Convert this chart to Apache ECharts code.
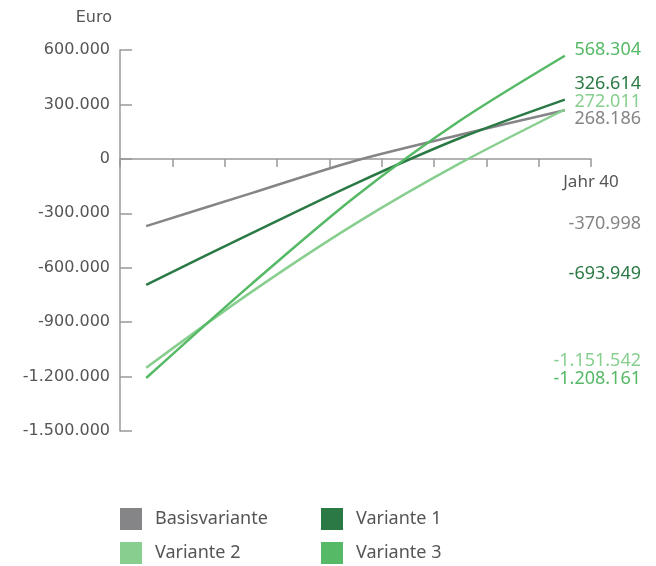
<!DOCTYPE html>
<html>
<head>
<meta charset="utf-8">
<script src="https://cdn.jsdelivr.net/npm/echarts@6/dist/echarts.min.js"></script>
<style>
  html, body { margin: 0; padding: 0; background: #fff; }
  #chart { width: 656px; height: 566px; }
</style>
</head>
<body>
<div id="chart"></div>
<script>
// Werte je Variante (Jahr 0 bis Jahr 40)
const years = [0, 10, 20, 30, 40]
const seriesNames = ['Basisvariante', 'Variante 1', 'Variante 2', 'Variante 3']
const basis = [-370998, -190000, -10000, 133000, 268186]
const variante1 = [-693949, -412000, -136000, 115000, 326614]
const variante2 = [-1151542, -736000, -357000, -24000, 272011]
const variante3 = [-1208161, -693000, -207000, 211000, 568304]
const yTicks = [-1500000, -1200000, -900000, -600000, -300000, 0, 300000, 600000]
const xTickCount = 9
const xLastLabel = 'Jahr 40'

const colors = ['#858588', '#2b7a45', '#88cf8f', '#55b965']
// Versatz der Wertelabels rechts (Start, Ende), damit sie sich nicht überlappen
const labelShift = [[-2, 9], [-11, -16], [-7, -8], [1, -6]]

const fmt = v => {
  const s = Math.abs(Math.round(v)).toString().replace(/\B(?=(\d{3})+(?!\d))/g, '.')
  return (v < 0 ? '-' : '') + s
}

const chart = echarts.init(document.getElementById('chart'))
const allData = [basis, variante1, variante2, variante3]

const series = allData.map((vals, i) => ({
  name: seriesNames[i],
  type: 'line',
  xAxisIndex: 1,
  data: years.map((y, k) => [y, vals[k]]),
  smooth: 0.3,
  showSymbol: false,
  lineStyle: { width: 2.5, color: colors[i] },
  itemStyle: { color: colors[i] },
  z: i === 3 ? 4 : 2,
  markPoint: {
    symbol: 'circle',
    symbolSize: 0,
    silent: true,
    label: {
      show: true,
      position: 'inside',
      align: 'right',
      verticalAlign: 'middle',
      fontFamily: 'Noto Sans',
      fontSize: 18,
      color: colors[i],
      formatter: p => fmt(p.value)
    },
    data: [
      { coord: [42.5, vals[0]], value: vals[0], label: { offset: [50, labelShift[i][0]] } },
      { coord: [42.5, vals[vals.length - 1]], value: vals[vals.length - 1], label: { offset: [50, labelShift[i][1]] } }
    ]
  }
}))

// Legende in zwei Spalten
const legendBase = {
  orient: 'vertical',
  icon: 'rect',
  itemWidth: 22,
  itemHeight: 22,
  itemGap: 12,
  padding: 0,
  height: 60,
  textStyle: { fontFamily: 'Noto Sans', fontSize: 18, color: '#555', padding: [0, 0, 0, 8] }
}

const option = {
  animation: false,
  grid: { left: 120, right: 65, top: 50, bottom: 135 },
  legend: [
    Object.assign({}, legendBase, { left: 120, top: 508, data: [seriesNames[0], seriesNames[2]] }),
    Object.assign({}, legendBase, { left: 321, top: 508, data: [seriesNames[1], seriesNames[3]] })
  ],
  xAxis: [
    {
      // sichtbare Achse nur für Striche, auf Höhe der Null
      type: 'value',
      min: 0,
      max: xTickCount,
      interval: 1,
      position: 'bottom',
      offset: -272,
      axisLine: { onZero: false, lineStyle: { color: '#999', width: 1.5 } },
      axisTick: { show: true, length: 8, lineStyle: { color: '#999', width: 1.5 } },
      splitLine: { show: false },
      axisLabel: {
        showMinLabel: true,
        showMaxLabel: true,
        fontFamily: 'Noto Sans',
        fontSize: 17,
        color: '#555',
        margin: 15,
        formatter: v => (v === xTickCount ? xLastLabel : '')
      }
    },
    {
      // Datenachse in Jahren
      type: 'value',
      min: -2.5,
      max: 42.5,
      show: false
    }
  ],
  yAxis: {
    type: 'value',
    min: yTicks[0],
    max: yTicks[yTicks.length - 1],
    interval: yTicks[1] - yTicks[0],
    name: 'Euro',
    nameLocation: 'end',
    nameGap: 24,
    nameTextStyle: { fontFamily: 'DejaVu Sans', fontSize: 16, color: '#555', align: 'right', padding: [0, 8, 0, 0] },
    axisLine: { show: true, lineStyle: { color: '#999', width: 1.5 } },
    axisTick: { show: true, inside: true, length: 12, lineStyle: { color: '#999', width: 1.5 } },
    splitLine: { show: false },
    axisLabel: {
      fontFamily: 'DejaVu Sans',
      fontSize: 16,
      color: '#555',
      margin: 10,
      formatter: v => fmt(v)
    }
  },
  series: series
}

chart.setOption(option)
</script>
</body>
</html>
